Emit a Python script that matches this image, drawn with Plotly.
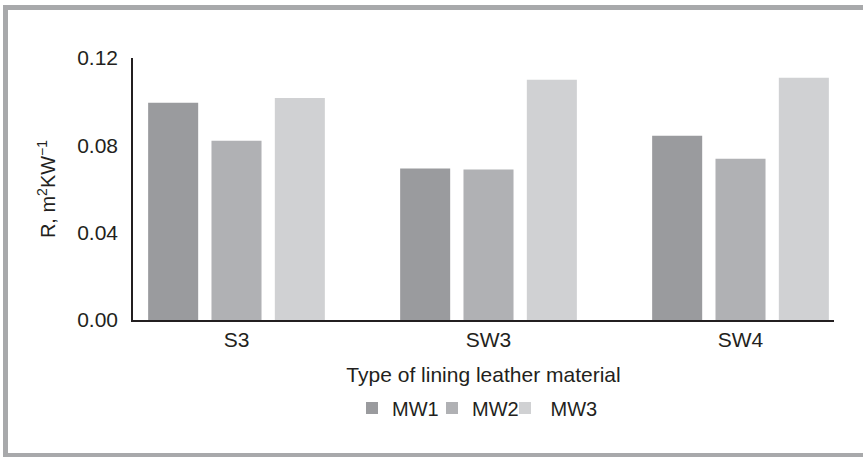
import plotly.graph_objects as go

categories = ["S3", "SW3", "SW4"]
series_names = ["MW1", "MW2", "\u00a0MW3"]
mw1 = [0.0995, 0.0694, 0.0844]
mw2 = [0.0821, 0.0689, 0.0739]
mw3 = [0.1017, 0.1100, 0.1109]
colors = ["#9a9b9e", "#b0b1b4", "#d0d1d3"]
y_ticks = [0.00, 0.04, 0.08, 0.12]

W, H = 863, 457
L, R, T, B = 133, 29, 58, 137
txt = "#231f20"
font = dict(family="Liberation Sans, Arial, sans-serif", size=21, color=txt)
legend_font = dict(family="Liberation Sans, Arial, sans-serif", size=20, color=txt)

def px_x(p):
    return (p - L) / (W - L - R)

def px_y(p):
    return (H - B - p) / (H - T - B)

legend_ids = ["legend", "legend2", "legend3"]
legend_left_px = [352, 432, 505]

fig = go.Figure()
for name, vals, c, lg in zip(series_names, [mw1, mw2, mw3], colors, legend_ids):
    fig.add_trace(go.Bar(x=categories, y=vals, name=name, marker_color=c,
                         marker_line_width=0, legend=lg))

frame = "#a8a9ab"
shapes = [
    dict(type="rect", xref="paper", yref="paper", x0=px_x(3), x1=px_x(8), y0=px_y(457), y1=px_y(5),
         fillcolor=frame, line_width=0, layer="below"),
    dict(type="rect", xref="paper", yref="paper", x0=px_x(3), x1=px_x(863), y0=px_y(10), y1=px_y(5),
         fillcolor=frame, line_width=0, layer="below"),
    dict(type="rect", xref="paper", yref="paper", x0=px_x(3), x1=px_x(863), y0=px_y(457), y1=px_y(453),
         fillcolor=frame, line_width=0, layer="below"),
]

legends = {}
for lg, lx in zip(legend_ids, legend_left_px):
    legends[lg] = dict(orientation="h", x=px_x(lx), xanchor="left", y=px_y(408), yanchor="middle",
                       font=legend_font, itemwidth=30, bgcolor="rgba(0,0,0,0)")

fig.update_layout(
    width=W, height=H,
    margin=dict(l=L, r=R, t=T, b=B, autoexpand=False),
    paper_bgcolor="white", plot_bgcolor="white",
    font=font,
    barmode="group", bargap=0.246, bargroupgap=0.21,
    showlegend=True,
    shapes=shapes,
    xaxis=dict(range=[-0.4107, 2.371], showline=True, linecolor=txt, linewidth=1.5,
               ticks="", showgrid=False, zeroline=False, tickfont=font,
               title=dict(text="Type of lining leather material", font=font, standoff=17)),
    yaxis=dict(range=[0, 0.12], tickvals=y_ticks, tickformat=".2f", showline=True,
               linecolor=txt, linewidth=1.5, ticks="", showgrid=False, zeroline=False,
               tickfont=font, ticklabelstandoff=9,
               title=dict(text="R, m<sup>2</sup>KW<sup>−1</sup>",
                          font=dict(family=font["family"], size=20, color=txt), standoff=16)),
    **legends,
)

fig.write_html("out.html", config={"displayModeBar": False},
               post_script="document.body.style.margin='0px';")
